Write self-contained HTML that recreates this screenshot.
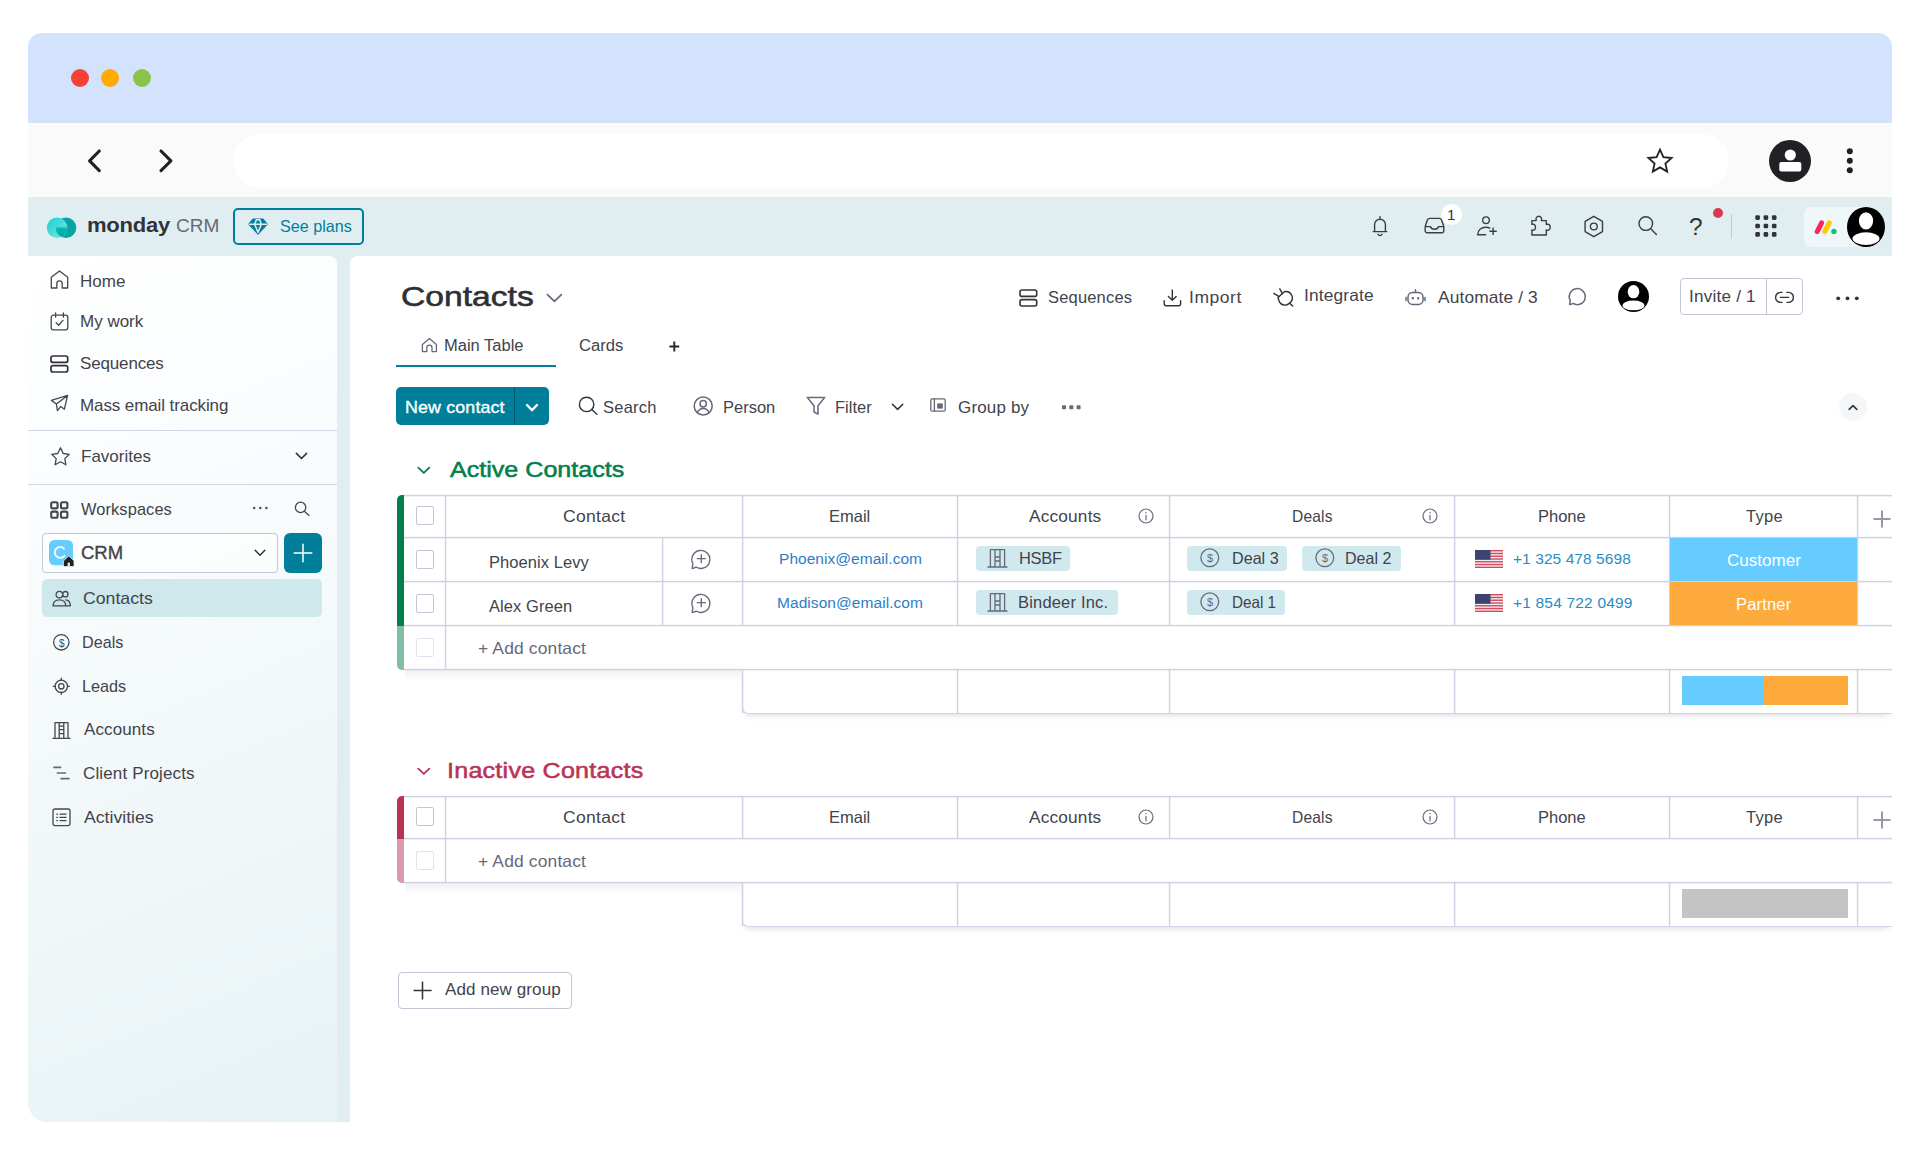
<!DOCTYPE html>
<html lang="en">
<head>
<meta charset="utf-8">
<title>Contacts - monday CRM</title>
<meta name="viewport" content="width=1920">
<style>

*{box-sizing:border-box;margin:0;padding:0}
html,body{width:1920px;height:1149px;background:#fff;overflow:hidden}
body{font-family:"Liberation Sans",sans-serif;color:#42434b;-webkit-font-smoothing:antialiased}
.page{position:relative;width:1920px;height:1149px;overflow:hidden;background:#fff}
.page div,.page span,.page svg,.page a,.page button,.page h1,.page h2,.page nav,.page header,.page main,.page section,.page ul,.page li{position:absolute}
.page .grp{position:static}
.t{white-space:nowrap;line-height:1;color:#42434b;text-decoration:none;font-weight:400}
.ic{overflow:visible;fill:none;stroke:#323338;stroke-width:1.5;stroke-linecap:round;stroke-linejoin:round}
.titlebar{background:#d3e3fd;border-radius:14px 14px 0 0}
.navbar{background:#fafafa}
.urlbar{background:#fff;border-radius:28px}
.dot{border-radius:50%}
.apphead{background:#e0eef2}
.sidebar{background:linear-gradient(158deg,#ffffff 0%,#fbfdfe 22%,#f2f8f9 58%,#e7f2f5 100%);border-radius:0 8px 0 20px}
.board{background:#fff;border-radius:8px 0 0 0}
.sep{background:#d0d4e4;height:1px}
.sel{background:#cfe8ec;border-radius:5px}
.wsbox{border:1px solid #c3c6d4;border-radius:4px;background:rgba(255,255,255,.6)}
.teal{background:#007f9b;border-radius:5px}
.outl{border:1px solid #c3c6d4;border-radius:4px;background:#fff}
.hl{background:#cdd1e2;height:1px;box-shadow:0 1px 0 rgba(205,209,226,.3),0 -1px 0 rgba(205,209,226,.12)}
.vl{background:#cdd1e2;width:1px;box-shadow:1px 0 0 rgba(205,209,226,.3),-1px 0 0 rgba(205,209,226,.12)}
.cb{border:1px solid #c3c6d4;border-radius:2px;background:#fff}
.cb.dim{border-color:#e0e2ec}
.chip{background:#cfe9ee;border-radius:4px}
.link{color:#2b7dc9}
.mut{color:#676879}
.wh{color:#fff}

</style>
</head>
<body>
<div class="page">
<div class="grp browser">
<div class="titlebar" style="left:28px;top:33px;width:1864px;height:90px;"></div>
<div class="dot" style="left:70.5px;top:69px;width:18px;height:18px;background:#f44336"></div>
<div class="dot" style="left:101px;top:69px;width:18px;height:18px;background:#ffab00"></div>
<div class="dot" style="left:132.5px;top:69px;width:18px;height:18px;background:#8bc34a"></div>
<div class="navbar" style="left:28px;top:123px;width:1864px;height:74px;"></div>
<svg class="ic" style="left:84px;top:146px;stroke:#202124;stroke-width:3.100;stroke-linecap:round;stroke-linejoin:round" width="22" height="30" viewBox="0 0 22 30" aria-hidden="true"><path d="M15.300 5 5.600 14.800l9.700 9.800"/></svg>
<svg class="ic" style="left:155px;top:146px;stroke:#202124;stroke-width:3.100;stroke-linecap:round;stroke-linejoin:round" width="22" height="30" viewBox="0 0 22 30" aria-hidden="true"><path d="M6 5l9.900 9.800L6 24.600"/></svg>
<div class="urlbar" style="left:233px;top:134px;width:1496px;height:54px;"></div>
<svg class="ic" style="left:1646px;top:147.4px;stroke:#202124;stroke-width:1.800;stroke-linejoin:miter" width="28" height="28" viewBox="0 0 28 28" aria-hidden="true"><path d="M14 2.6l3.4 7.6 8.2.8-6.2 5.5 1.8 8.1L14 20.4l-7.2 4.2 1.8-8.1L2.4 11l8.2-.8z"/></svg>
<svg class="ic" style="left:1768.7px;top:140px;" width="42" height="42" viewBox="0 0 42 42" aria-hidden="true"><circle cx="21" cy="21" r="21" fill="#202124" stroke="none"/><circle cx="21.3" cy="15" r="5.6" fill="#fff" stroke="none"/><rect x="10.3" y="22" width="22" height="9.4" rx="2" fill="#fff" stroke="none"/></svg>
<svg class="ic" style="left:1844.6px;top:146.2px;fill:#1f1f1f;stroke:none" width="10" height="30" viewBox="0 0 10 30" aria-hidden="true"><circle cx="4.8" cy="5.2" r="3" /><circle cx="4.8" cy="14.8" r="3"/><circle cx="4.8" cy="24.3" r="3"/></svg>
</div>
<header class="grp">
<div class="apphead" style="left:28px;top:197px;width:1864px;height:925px;border-radius:0 0 0 20px"></div>
<svg class="ic" style="left:46px;top:217px;" width="31" height="22" viewBox="0 0 31 22" aria-hidden="true"><defs><linearGradient id="lg1" x1="0" y1="0" x2="1" y2="1"><stop offset="0" stop-color="#16cfcd"/><stop offset="1" stop-color="#7fe9e6"/></linearGradient><linearGradient id="lg3" x1="0" y1="0" x2="0" y2="1"><stop offset="0.42" stop-color="#07b3b0" stop-opacity="0"/><stop offset="0.55" stop-color="#07b3b0"/><stop offset="1" stop-color="#05a7a6"/></linearGradient><clipPath id="cpl"><circle cx="11.1" cy="10.8" r="10.3"/></clipPath></defs><circle cx="20" cy="10.8" r="10.3" fill="#06a4a4" stroke="none"/><circle cx="11.1" cy="10.8" r="10.3" fill="url(#lg1)" stroke="none"/><circle cx="20" cy="10.8" r="10.3" fill="url(#lg3)" stroke="none" clip-path="url(#cpl)"/></svg>
<span class="t" style="left:87px;top:214px;font-size:21px;letter-spacing:-0.25px;font-weight:700;transform:scaleX(1.050);transform-origin:0 0;color:#323338;">monday</span>
<span class="t" style="left:176px;top:216px;font-size:19px;color:#676879;">CRM</span>
<div style="left:233px;top:208px;width:131px;height:37px;border:2px solid #007f9b;border-radius:5px"></div>
<svg class="ic" style="left:248px;top:218px;" width="20" height="17" viewBox="0 0 20 17" aria-hidden="true"><path d="M5.2 1h9.6l4.4 5.2L10 16 .8 6.2z" fill="#007f9b" stroke="#007f9b" stroke-width="1.2"/><path d="M1.500 6.300h17M6.700 6.300 10 14.500l3.300-8.200M6.700 6.300l1.600-4.500h3.400l1.600 4.500" stroke="#e0eef2" stroke-width="1.500" fill="none"/></svg>
<span class="t" style="left:280px;top:218px;font-size:16.5px;transform:scaleX(0.978);transform-origin:0 0;color:#007f9b;">See plans</span>
<svg class="ic" style="left:1370px;top:215px;stroke:#3b3c44;stroke-width:1.400" width="20" height="21" viewBox="0 0 20 21" aria-hidden="true"><path d="M10 1.6v1.6M3.2 16.6h13.6M4.6 16.4V9.6a5.4 5.4 0 0 1 10.8 0v6.8M8 19.2a2.2 2.2 0 0 0 4 0"/></svg>
<svg class="ic" style="left:1424px;top:217px;stroke:#3b3c44;stroke-width:1.400" width="21" height="17" viewBox="0 0 21 17" aria-hidden="true"><path d="M1.2 9.4 3.4 3a2.6 2.6 0 0 1 2.4-1.6h9.4A2.6 2.6 0 0 1 17.6 3l2.2 6.4v4.4a2 2 0 0 1-2 2H3.2a2 2 0 0 1-2-2zM1.4 9.6h5.2c.3 1.600 1.800 2.600 3.900 2.600s3.600-1 3.900-2.600h5.200"/></svg>
<div class="dot" style="left:1441px;top:203.5px;width:21px;height:21px;background:#fff"></div>
<span class="t" style="left:1447px;top:207px;font-size:15px;color:#323338;">1</span>
<svg class="ic" style="left:1476px;top:215px;stroke:#3b3c44;stroke-width:1.400" width="22" height="22" viewBox="0 0 22 22" aria-hidden="true"><circle cx="10" cy="5.200" r="3.300"/><path d="M1.600 19.800c.4-4.600 3.600-7.600 8.200-7.600 1.500 0 2.800.3 4 .9M1.600 19.800h8M17.100 13v6.400M13.900 16.200h6.400"/></svg>
<svg class="ic" style="left:1529px;top:215px;stroke:#3b3c44;stroke-width:1.400" width="22" height="22" viewBox="0 0 22 22" aria-hidden="true"><path d="M2.900 5.600H7.200C6.500 3.200 7.600 1.200 9.800 1.200s3.300 2 2.600 4.400h4.900v3.800c2.400-.7 3.900.4 3.900 2.800s-1.500 3.500-3.900 2.800v5H2.900v-5c2.400.7 3.600-.5 3.600-2.800S5.300 8.700 2.900 9.400z"/></svg>
<svg class="ic" style="left:1583px;top:215px;stroke:#3b3c44;stroke-width:1.400;stroke-linejoin:round" width="22" height="23" viewBox="0 0 22 23" aria-hidden="true"><path d="M10.800 1.300l8.700 5.100v10.200l-8.700 5.100-8.700-5.100V6.400z"/><circle cx="10.800" cy="11.500" r="3.400"/></svg>
<svg class="ic" style="left:1637px;top:215px;stroke:#3b3c44;stroke-width:1.400" width="21" height="21" viewBox="0 0 21 21" aria-hidden="true"><circle cx="8.800" cy="8.600" r="6.800"/><path d="M13.800 13.800l5.600 5.600"/></svg>
<span class="t" style="left:1689px;top:215px;font-size:24.5px;color:#323338;">?</span>
<div class="dot" style="left:1713px;top:208.2px;width:10px;height:10px;background:#d83a52"></div>
<div style="left:1731px;top:214px;width:1px;height:25px;background:#c5c7d4"></div>
<svg class="ic" style="left:1755px;top:215px;fill:#323338;stroke:none" width="22" height="22" viewBox="0 0 22 22" aria-hidden="true"><rect x="0.3" y="0.3" width="4.6" height="4.6" rx="1.3"/><rect x="8.6" y="0.3" width="4.6" height="4.6" rx="1.3"/><rect x="16.9" y="0.3" width="4.6" height="4.6" rx="1.3"/><rect x="0.3" y="8.7" width="4.6" height="4.6" rx="1.3"/><rect x="8.6" y="8.7" width="4.6" height="4.6" rx="1.3"/><rect x="16.9" y="8.7" width="4.6" height="4.6" rx="1.3"/><rect x="0.3" y="17.1" width="4.6" height="4.6" rx="1.3"/><rect x="8.6" y="17.1" width="4.6" height="4.6" rx="1.3"/><rect x="16.9" y="17.1" width="4.6" height="4.6" rx="1.3"/></svg>
<div style="left:1803.5px;top:206.5px;width:80px;height:40px;background:rgba(255,255,255,.5);border-radius:7px 20px 20px 7px"></div>
<svg class="ic" style="left:1814px;top:218.5px;" width="23" height="16" viewBox="0 0 23 16" aria-hidden="true"><path d="M3.200 12.600 7.600 3.800" stroke="#fb275d" stroke-width="5"/><path d="M10.800 12.600 15.200 3.800" stroke="#ffcb00" stroke-width="5"/><circle cx="19.900" cy="12.400" r="2.700" fill="#00ca72" stroke="none"/></svg>
<svg class="ic" style="left:1847.400px;top:206.600px" width="38" height="40" viewBox="0 0 40 40" preserveAspectRatio="none" aria-hidden="true"><circle cx="20" cy="20" r="20" fill="#000" stroke="none"/><ellipse cx="20" cy="13.800" rx="7.500" ry="8.600" fill="#fff" stroke="none"/><ellipse cx="20" cy="31.600" rx="14.200" ry="6.300" fill="#fff" stroke="none"/></svg>
</header>
<nav class="grp">
<div class="sidebar" style="left:28px;top:256px;width:309px;height:866px;"></div>
<svg class="ic" style="left:50px;top:270px;stroke:#45464f;stroke-width:1.3" width="19" height="19" viewBox="0 0 19 19" aria-hidden="true"><path d="M1.300 7.200 9.500 1l8.200 6.200V18h-5.500v-4.500a2.700 2.700 0 0 0-5.400 0V18H1.300z"/></svg>
<span class="t" style="left:80px;top:273px;font-size:17px;">Home</span>
<svg class="ic" style="left:50px;top:312px;stroke:#45464f;stroke-width:1.3" width="19" height="19" viewBox="0 0 19 19" aria-hidden="true"><rect x="1.200" y="3.200" width="16.600" height="14.600" rx="2.200"/><path d="M5.600 1v4M13.400 1v4M6.200 10.800l2.400 2.400 4.400-4.800"/></svg>
<span class="t" style="left:80px;top:313px;font-size:17px;">My work</span>
<svg class="ic" style="left:50px;top:354.5px;stroke:#323338;stroke-width:1.7" width="19" height="18" viewBox="0 0 19 18" aria-hidden="true"><rect x="1" y="1" width="16.700" height="6.400" rx="2"/><rect x="1" y="10.600" width="16.700" height="6.400" rx="2"/></svg>
<span class="t" style="left:80px;top:355px;font-size:17px;letter-spacing:-0.15px;">Sequences</span>
<svg class="ic" style="left:50px;top:394px;stroke:#45464f;stroke-width:1.3" width="19" height="19" viewBox="0 0 19 19" aria-hidden="true"><path d="M17.600 1.400 1.400 6.400l5 3.600 1 6.600 3.400-4.200 3.600 2.800zM6.400 10 17.600 1.400"/></svg>
<span class="t" style="left:80px;top:397px;font-size:17px;letter-spacing:-0.10px;">Mass email tracking</span>
<div class="sep" style="left:28px;top:429.5px;width:309px;height:1px;"></div>
<svg class="ic" style="left:50px;top:445.5px;stroke:#45464f;stroke-width:1.3" width="21" height="21" viewBox="0 0 21 21" aria-hidden="true"><path d="M10.500 1.800l2.700 5.700 6.100.8-4.500 4.300 1.100 6.200-5.400-3-5.400 3 1.100-6.200L1.700 8.300l6.100-.8z"/></svg>
<span class="t" style="left:81px;top:448px;font-size:17px;">Favorites</span>
<svg class="ic" style="left:295px;top:452px;stroke:#323338;stroke-width:1.6" width="13" height="8" viewBox="0 0 13 8" aria-hidden="true"><path d="M1.400 1.400 6.500 6.500l5.100-5.100"/></svg>
<div class="sep" style="left:28px;top:484px;width:309px;height:1px;"></div>
<svg class="ic" style="left:50px;top:500.5px;stroke:#45464f;stroke-width:2.100" width="19" height="18" viewBox="0 0 19 18" aria-hidden="true"><rect x="1.200" y="1.200" width="6.400" height="6.200" rx="1.500"/><rect x="11" y="1.200" width="6.400" height="6.200" rx="1.500"/><rect x="1.200" y="10.600" width="6.400" height="6.200" rx="1.500"/><rect x="11" y="10.600" width="6.400" height="6.200" rx="1.500"/></svg>
<span class="t" style="left:81px;top:501px;font-size:17px;letter-spacing:0.09px;transform:scaleX(0.966);transform-origin:0 0;">Workspaces</span>
<svg class="ic" style="left:252px;top:506px;fill:#45464f;stroke:none" width="17" height="4" viewBox="0 0 17 4" aria-hidden="true"><circle cx="2.200" cy="2" r="1.200"/><circle cx="8.300" cy="2" r="1.200"/><circle cx="14.400" cy="2" r="1.200"/></svg>
<svg class="ic" style="left:294px;top:500.5px;stroke:#45464f;stroke-width:1.3" width="16" height="15" viewBox="0 0 16 15" aria-hidden="true"><circle cx="6.600" cy="6.400" r="5.200"/><path d="M10.600 10.400l4.400 4"/></svg>
<div class="wsbox" style="left:41.5px;top:533px;width:236.5px;height:39.5px;"></div>
<svg class="ic" style="left:48.5px;top:540px;" width="26" height="27" viewBox="0 0 26 27" aria-hidden="true"><rect x="0" y="0" width="24" height="25.300" rx="5.500" fill="#66ccff" stroke="none"/><path d="M15 8.600a5.400 5.400 0 1 0 .4 7.200" stroke="#fff" stroke-width="1.900" fill="none" opacity=".9"/><path d="M14.600 20.800 19.800 15.800l5.200 5v5.800H14.600z" fill="#1f1f1f" stroke="#f4f9fa" stroke-width="0.800"/><rect x="18.600" y="22.600" width="2.400" height="3.600" fill="#dfe3e8" stroke="none"/></svg>
<span class="t" style="left:81px;top:544px;font-size:18.5px;-webkit-text-stroke:0.35px;">CRM</span>
<svg class="ic" style="left:253.5px;top:548.5px;stroke:#323338;stroke-width:1.500" width="12" height="8" viewBox="0 0 12 8" aria-hidden="true"><path d="M1.200 1.300 6 6.200l4.800-4.900"/></svg>
<div class="teal" style="left:283.5px;top:533px;width:38.5px;height:39.5px;border-radius:6px"></div>
<svg class="ic" style="left:293px;top:543px;stroke:#fff;stroke-width:1.500" width="20" height="20" viewBox="0 0 20 20" aria-hidden="true"><path d="M10 1.200v17.600M1.200 10h17.600"/></svg>
<div class="sel" style="left:41.5px;top:579px;width:280.5px;height:38px;"></div>
<svg class="ic" style="left:52px;top:589.5px;stroke:#45464f;stroke-width:1.3" width="20" height="17" viewBox="0 0 20 17" aria-hidden="true"><circle cx="7.400" cy="4.600" r="3.300"/><circle cx="13.300" cy="4.200" r="2.700"/><path d="M1 15.800c.2-3.800 2.800-6 6.400-6s6.200 2.200 6.400 6zM13.800 9.800c2.600.2 4.400 2.200 4.600 6h-4.200"/></svg>
<span class="t" style="left:83px;top:590px;font-size:17px;transform:scaleX(1.040);transform-origin:0 0;">Contacts</span>
<svg class="ic" style="left:52px;top:633px;stroke:#45464f;stroke-width:1.3" width="19" height="19" viewBox="0 0 19 19" aria-hidden="true"><circle cx="9.300" cy="9.300" r="7.700"/></svg>
<span class="t" style="left:59px;top:639px;font-size:10px;color:#45464f;">$</span>
<span class="t" style="left:82px;top:634px;font-size:17px;transform:scaleX(0.950);transform-origin:0 0;">Deals</span>
<svg class="ic" style="left:52px;top:676.5px;stroke:#45464f;stroke-width:1.3" width="19" height="19" viewBox="0 0 19 19" aria-hidden="true"><circle cx="9.300" cy="9.300" r="6.200"/><circle cx="9.300" cy="9.300" r="2.700"/><path d="M9.300 1.200v1.900M9.300 15.500v1.900M1.200 9.300h1.900M15.500 9.300h1.900"/></svg>
<span class="t" style="left:82px;top:678px;font-size:17px;transform:scaleX(0.953);transform-origin:0 0;">Leads</span>
<svg class="ic" style="left:52px;top:720.5px;stroke:#45464f;stroke-width:1.3" width="19" height="19" viewBox="0 0 19 19" aria-hidden="true"><path d="M3 17.400V1.600h13v15.800M1 17.400h17M7.200 17.400v-4.800h4.600v4.800M7.200 1.600v11M11.800 1.600v11M7.200 8.600h4.600M7.200 5.200h4.600"/></svg>
<span class="t" style="left:84px;top:721px;font-size:17px;letter-spacing:0.11px;">Accounts</span>
<svg class="ic" style="left:53px;top:766px;stroke:#676879;stroke-width:1.700" width="18" height="14" viewBox="0 0 18 14" aria-hidden="true"><path d="M1 1.400h6.500M4.400 7h8M8 12.600h8"/></svg>
<span class="t" style="left:83px;top:765px;font-size:17px;letter-spacing:0.14px;">Client Projects</span>
<svg class="ic" style="left:52px;top:808px;stroke:#45464f;stroke-width:1.3" width="19" height="19" viewBox="0 0 19 19" aria-hidden="true"><rect x="1" y="1" width="17" height="16.600" rx="1.800"/><path d="M8 6.200h6M8 9.400h6M8 12.600h6M4.800 6.200h.6M4.800 9.400h.6M4.800 12.600h.6"/></svg>
<span class="t" style="left:84px;top:809px;font-size:17px;transform:scaleX(1.038);transform-origin:0 0;">Activities</span>
</nav>
<main class="grp">
<div class="board" style="left:350px;top:256px;width:1542px;height:866px;"></div>
<h1 class="t" style="left:401px;top:282px;font-size:28.5px;transform:scaleX(1.180);transform-origin:0 0;-webkit-text-stroke:0.6px;color:#2f3035;">Contacts</h1>
<svg class="ic" style="left:545.5px;top:292.5px;stroke:#676879;stroke-width:1.700" width="17" height="10" viewBox="0 0 17 10" aria-hidden="true"><path d="M1.400 1.600 8.400 8.400l7-6.800"/></svg>
<svg class="ic" style="left:1018.5px;top:288.5px;stroke:#323338;stroke-width:1.600" width="19" height="18" viewBox="0 0 19 18" aria-hidden="true"><rect x="1" y="1" width="16.700" height="6.400" rx="2"/><rect x="1" y="10.600" width="16.700" height="6.400" rx="2"/></svg>
<span class="t" style="left:1048px;top:289px;font-size:16.5px;letter-spacing:0.18px;">Sequences</span>
<svg class="ic" style="left:1163px;top:288.5px;stroke:#323338;stroke-width:1.400" width="19" height="18" viewBox="0 0 19 18" aria-hidden="true"><path d="M9.300 1v10M5.400 7.400l3.900 3.800 3.900-3.800M1.200 11.800v3a2 2 0 0 0 2 2h12.400a2 2 0 0 0 2-2v-3"/></svg>
<span class="t" style="left:1189px;top:289px;font-size:16.5px;letter-spacing:0.51px;transform:scaleX(1.060);transform-origin:0 0;">Import</span>
<svg class="ic" style="left:1272px;top:287px;stroke:#323338;stroke-width:1.400" width="22" height="21" viewBox="0 0 22 21" aria-hidden="true"><path d="M6 10.600 12.400 4.800a6.300 6.300 0 0 1 6.200 10.400l-1.600 1.400a6.300 6.300 0 0 1-9.600-1.800z"/><path d="M10.400 6.600 7.800 1.800M7.200 9.600 1.800 6.400M17.800 16.200l2.800 2.800"/></svg>
<span class="t" style="left:1304px;top:287px;font-size:16.5px;letter-spacing:0.15px;transform:scaleX(1.051);transform-origin:0 0;">Integrate</span>
<svg class="ic" style="left:1405px;top:288.5px;stroke:#676879;stroke-width:1.500" width="21" height="17" viewBox="0 0 21 17" aria-hidden="true"><rect x="3" y="3.400" width="15" height="12" rx="4.500"/><path d="M10.500 .8v2.400M1 8.400v3M20 8.400v3"/><rect x="6.800" y="8" width="2" height="2.400" fill="#676879" stroke="none"/><rect x="12.200" y="8" width="2" height="2.400" fill="#676879" stroke="none"/></svg>
<span class="t" style="left:1438px;top:289px;font-size:17px;letter-spacing:0.12px;transform:scaleX(1.021);transform-origin:0 0;">Automate / 3</span>
<svg class="ic" style="left:1567px;top:286.5px;stroke:#676879;stroke-width:1.500" width="20" height="20" viewBox="0 0 20 20" aria-hidden="true"><path d="M2.600 17.600c1.400-.2 2.600-.6 3.400-1.200a8 8 0 1 0-2.800-3z"/></svg>
<svg class="ic" style="left:1617.5px;top:281px;" width="31" height="31" viewBox="0 0 40 40" aria-hidden="true"><circle cx="20" cy="20" r="20" fill="#000" stroke="none"/><ellipse cx="20" cy="13.800" rx="7.500" ry="8.600" fill="#fff" stroke="none"/><ellipse cx="20" cy="31.600" rx="14.200" ry="6.300" fill="#fff" stroke="none"/></svg>
<div class="outl" style="left:1680px;top:278px;width:123px;height:37px;"></div>
<div style="left:1765.5px;top:278px;width:1px;height:37px;background:#c3c6d4"></div>
<span class="t" style="left:1689px;top:288px;font-size:16.5px;letter-spacing:0.21px;transform:scaleX(1.037);transform-origin:0 0;">Invite / 1</span>
<svg class="ic" style="left:1774px;top:290.5px;stroke:#323338;stroke-width:1.400" width="21" height="13" viewBox="0 0 21 13" aria-hidden="true"><path d="M8 1.400H6.600a5 5 0 0 0 0 10H8M13 1.400h1.400a5 5 0 0 1 0 10H13M6.400 6.400h8.200"/></svg>
<svg class="ic" style="left:1835.5px;top:296px;fill:#323338;stroke:none" width="24" height="5" viewBox="0 0 24 5" aria-hidden="true"><circle cx="2.200" cy="2.300" r="1.900"/><circle cx="11.500" cy="2.300" r="1.900"/><circle cx="20.800" cy="2.300" r="1.900"/></svg>
<svg class="ic" style="left:420.5px;top:337px;stroke:#676879;stroke-width:1.300" width="17" height="16" viewBox="0 0 17 16" aria-hidden="true"><path d="M1.400 7.400 8.400 1.400l7 6v7.200h-4.400v-3.800a2.600 2.600 0 0 0-5.200 0v3.800H1.400z"/></svg>
<span class="t" style="left:444px;top:338px;font-size:16px;transform:scaleX(1.032);transform-origin:0 0;">Main Table</span>
<div style="left:395.5px;top:365px;width:160px;height:2px;background:#007f9b"></div>
<span class="t" style="left:579px;top:338px;font-size:16px;transform:scaleX(1.037);transform-origin:0 0;">Cards</span>
<svg class="ic" style="left:668.5px;top:341px;stroke:#26272c;stroke-width:1.900;stroke-linecap:butt" width="11" height="11" viewBox="0 0 11 11" aria-hidden="true"><path d="M5.300 .6v9.800M.4 5.500h9.800"/></svg>
<div class="teal" style="left:395.5px;top:387px;width:153px;height:38px;"></div>
<div style="left:514px;top:387px;width:1px;height:38px;background:#00596d"></div>
<span class="t wh" style="left:405px;top:399px;font-size:17px;letter-spacing:0.13px;transform:scaleX(1.050);transform-origin:0 0;-webkit-text-stroke:0.35px;">New contact</span>
<svg class="ic" style="left:524.5px;top:403px;stroke:#fff;stroke-width:2.400" width="14" height="10" viewBox="0 0 14 10" aria-hidden="true"><path d="M2 2 7 7.200 12 2"/></svg>
<svg class="ic" style="left:578px;top:396px;stroke:#323338;stroke-width:1.400" width="20" height="19" viewBox="0 0 20 19" aria-hidden="true"><circle cx="8.600" cy="8.400" r="7.200"/><path d="M13.800 13.600l5 4.600"/></svg>
<span class="t" style="left:603px;top:399px;font-size:16.5px;letter-spacing:0.24px;">Search</span>
<svg class="ic" style="left:692.5px;top:396px;stroke:#676879;stroke-width:1.500" width="20" height="20" viewBox="0 0 20 20" aria-hidden="true"><circle cx="10.200" cy="10" r="9"/><circle cx="10.200" cy="7.800" r="3.200"/><path d="M4.400 16.600c1-3 3-4.200 5.800-4.200s4.800 1.200 5.800 4.200"/></svg>
<span class="t" style="left:723px;top:399px;font-size:16.5px;">Person</span>
<svg class="ic" style="left:805.5px;top:396px;stroke:#676879;stroke-width:1.500" width="20" height="20" viewBox="0 0 20 20" aria-hidden="true"><path d="M1.200 1.400h17.600l-6.800 8.400v8.400l-4-2.200V9.800z"/></svg>
<span class="t" style="left:835px;top:399px;font-size:16.5px;">Filter</span>
<svg class="ic" style="left:891px;top:402.5px;stroke:#323338;stroke-width:1.500" width="14" height="8" viewBox="0 0 14 8" aria-hidden="true"><path d="M1.400 1.300 6.600 6.400l5.200-5.100"/></svg>
<svg class="ic" style="left:930px;top:398px;stroke:#676879;stroke-width:1.300" width="16" height="14" viewBox="0 0 16 14" aria-hidden="true"><rect x=".8" y=".8" width="14.400" height="12.400" rx="1.500"/><path d="M4.400 1v12"/><rect x="7.200" y="5.400" width="5.600" height="5.200" fill="#676879" stroke="none"/></svg>
<span class="t" style="left:958px;top:399px;font-size:16.5px;letter-spacing:0.17px;transform:scaleX(1.029);transform-origin:0 0;">Group by</span>
<svg class="ic" style="left:1062px;top:404.5px;fill:#676879;stroke:none" width="19" height="5" viewBox="0 0 19 5" aria-hidden="true"><rect x="0" y=".3" width="4" height="4" rx=".8"/><rect x="7.300" y=".3" width="4" height="4" rx=".8"/><rect x="14.600" y=".3" width="4" height="4" rx=".8"/></svg>
<div class="dot" style="left:1838.5px;top:393px;width:28px;height:28px;background:#f5f6f8"></div>
<svg class="ic" style="left:1848px;top:403.5px;stroke:#323338;stroke-width:1.600" width="10" height="7" viewBox="0 0 10 7" aria-hidden="true"><path d="M1.200 5.400 5 1.600l3.800 3.800"/></svg>
<section class="grp">
<svg class="ic" style="left:416.5px;top:465.5px;stroke:#037f4c;stroke-width:1.800" width="14" height="9" viewBox="0 0 14 9" aria-hidden="true"><path d="M1.300 1.600 6.800 6.800l5.500-5.200"/></svg>
<h2 class="t" style="left:450px;top:459px;font-size:22px;transform:scaleX(1.140);transform-origin:0 0;-webkit-text-stroke:0.55px;color:#037f4c;">Active Contacts</h2>
<div style="left:397px;top:495px;width:7px;height:131px;background:#037f4c;border-radius:5px 0 0 0"></div>
<div style="left:397px;top:626px;width:7px;height:44px;background:#81bfa5;border-radius:0 0 0 5px"></div>
<div style="left:405px;top:670px;width:1487px;height:12px;background:linear-gradient(#f0f1f5,#fff)"></div>
<div style="left:742px;top:670px;width:1150px;height:44px;background:#fff;border:1px solid #d0d4e4;border-top:none;border-right:none;border-radius:0 0 0 6px;box-shadow:0 5px 6px -4px rgba(120,125,150,.3)"></div>
<div class="hl" style="left:404px;top:495px;width:1488px;height:1px;"></div>
<div class="hl" style="left:404px;top:537px;width:1488px;height:1px;"></div>
<div class="hl" style="left:404px;top:581px;width:1488px;height:1px;"></div>
<div class="hl" style="left:404px;top:625px;width:1488px;height:1px;"></div>
<div class="hl" style="left:404px;top:669px;width:1488px;height:1px;"></div>
<div class="vl" style="left:445px;top:496px;width:1px;height:173px;"></div>
<div class="vl" style="left:742px;top:496px;width:1px;height:129px;"></div>
<div class="vl" style="left:742px;top:670px;width:1px;height:43px;"></div>
<div class="vl" style="left:957px;top:496px;width:1px;height:129px;"></div>
<div class="vl" style="left:957px;top:670px;width:1px;height:43px;"></div>
<div class="vl" style="left:1169px;top:496px;width:1px;height:129px;"></div>
<div class="vl" style="left:1169px;top:670px;width:1px;height:43px;"></div>
<div class="vl" style="left:1454px;top:496px;width:1px;height:129px;"></div>
<div class="vl" style="left:1454px;top:670px;width:1px;height:43px;"></div>
<div class="vl" style="left:1669px;top:496px;width:1px;height:129px;"></div>
<div class="vl" style="left:1669px;top:670px;width:1px;height:43px;"></div>
<div class="vl" style="left:1857px;top:496px;width:1px;height:129px;"></div>
<div class="vl" style="left:1857px;top:670px;width:1px;height:43px;"></div>
<div class="vl" style="left:662px;top:538px;width:1px;height:87px;"></div>
<div class="cb" style="left:416px;top:506px;width:18px;height:19px;"></div>
<span class="t" style="left:563px;top:508px;font-size:16.5px;letter-spacing:0.27px;transform:scaleX(1.063);transform-origin:0 0;">Contact</span>
<span class="t" style="left:829px;top:508px;font-size:16.5px;">Email</span>
<span class="t" style="left:1029px;top:508px;font-size:16.5px;letter-spacing:0.16px;transform:scaleX(1.047);transform-origin:0 0;">Accounts</span>
<svg class="ic" style="left:1137.5px;top:507.7px;stroke:#676879;stroke-width:1.200" width="16" height="16" viewBox="0 0 16 16" aria-hidden="true"><circle cx="8" cy="8" r="7"/><path d="M8 7.400v4.400M8 4.400v.4"/></svg>
<span class="t" style="left:1292px;top:508px;font-size:16.5px;letter-spacing:0.19px;transform:scaleX(0.944);transform-origin:0 0;">Deals</span>
<svg class="ic" style="left:1421.5px;top:507.7px;stroke:#676879;stroke-width:1.200" width="16" height="16" viewBox="0 0 16 16" aria-hidden="true"><circle cx="8" cy="8" r="7"/><path d="M8 7.400v4.400M8 4.400v.4"/></svg>
<span class="t" style="left:1538px;top:508px;font-size:16.5px;">Phone</span>
<span class="t" style="left:1746px;top:508px;font-size:16.5px;letter-spacing:0.33px;">Type</span>
<svg class="ic" style="left:1873px;top:510px;stroke:#9699a6;stroke-width:2;stroke-linecap:butt" width="18" height="18" viewBox="0 0 18 18" aria-hidden="true"><path d="M9 .5v17M.5 9h17"/></svg>
<div class="cb" style="left:416px;top:550px;width:18px;height:19px;"></div>
<span class="t" style="left:489px;top:554px;font-size:16.5px;letter-spacing:0.06px;">Phoenix Levy</span>
<svg class="ic" style="left:690.3px;top:547.6px;stroke:#676879;stroke-width:1.300" width="22" height="22.5" viewBox="0 0 21 21.500" aria-hidden="true"><path d="M2 19.600c1.600-.2 3-.6 3.800-1.400a8.600 8.600 0 1 0-3-3.200zM10.800 6.400v7.600M7 10.200h7.600"/></svg>
<a class="t link" style="left:779px;top:551px;font-size:15.5px;letter-spacing:0.04px;">Phoenix@email.com</a>
<div class="chip" style="left:975.5px;top:546px;width:94.3px;height:25px;"></div>
<svg class="ic" style="left:986.5px;top:547.5px;stroke:#676879;stroke-width:1.300" width="21" height="20" viewBox="0 0 21 20" aria-hidden="true"><path d="M3.400 19V1.600h14.200V19M1 19h19M8 19v-6h5v6M8 1.600V13M13 1.600V13M8 9h5"/></svg>
<span class="t" style="left:1019px;top:550px;font-size:16.5px;letter-spacing:-0.33px;">HSBF</span>
<div class="chip" style="left:1187.2px;top:546px;width:100.1px;height:25px;"></div>
<svg class="ic" style="left:1200.2px;top:548px;stroke:#676879;stroke-width:1.300" width="20" height="20" viewBox="0 0 20 20" aria-hidden="true"><circle cx="9.800" cy="9.800" r="8.900"/></svg>
<span class="t" style="left:1207px;top:553px;font-size:11px;color:#676879;">$</span>
<span class="t" style="left:1232px;top:550px;font-size:16.5px;transform:scaleX(0.978);transform-origin:0 0;">Deal 3</span>
<div class="chip" style="left:1301.7px;top:546px;width:99.6px;height:25px;"></div>
<svg class="ic" style="left:1314.7px;top:548px;stroke:#676879;stroke-width:1.300" width="20" height="20" viewBox="0 0 20 20" aria-hidden="true"><circle cx="9.800" cy="9.800" r="8.900"/></svg>
<span class="t" style="left:1322px;top:553px;font-size:11px;color:#676879;">$</span>
<span class="t" style="left:1345px;top:550px;font-size:16.5px;transform:scaleX(0.972);transform-origin:0 0;">Deal 2</span>
<svg class="ic" style="left:1475px;top:549.7px;" width="28" height="18" viewBox="0 0 28 18" aria-hidden="true"><rect width="28" height="18" fill="#eef0f3" stroke="none"/><rect y="0" width="28" height="1.400" fill="#d24a5c" stroke="none"/><rect y="2.77" width="28" height="1.400" fill="#d24a5c" stroke="none"/><rect y="5.54" width="28" height="1.400" fill="#d24a5c" stroke="none"/><rect y="8.31" width="28" height="1.400" fill="#d24a5c" stroke="none"/><rect y="11.08" width="28" height="1.400" fill="#d24a5c" stroke="none"/><rect y="13.85" width="28" height="1.400" fill="#d24a5c" stroke="none"/><rect y="16.6" width="28" height="1.400" fill="#d24a5c" stroke="none"/><rect width="15.500" height="9.700" fill="#3c4372" stroke="none"/></svg>
<a class="t link" style="left:1513px;top:551px;font-size:15.5px;letter-spacing:0.07px;color:#2b8cc4;">+1 325 478 5698</a>
<div style="left:1670px;top:538px;width:187px;height:43px;background:#66ccff"></div>
<span class="t wh" style="left:1727px;top:552px;font-size:16.5px;transform:scaleX(1.034);transform-origin:0 0;">Customer</span>
<div class="cb" style="left:416px;top:594px;width:18px;height:19px;"></div>
<span class="t" style="left:489px;top:598px;font-size:16.5px;letter-spacing:0.06px;">Alex Green</span>
<svg class="ic" style="left:690.3px;top:591.6px;stroke:#676879;stroke-width:1.300" width="22" height="22.5" viewBox="0 0 21 21.500" aria-hidden="true"><path d="M2 19.600c1.600-.2 3-.6 3.800-1.400a8.600 8.600 0 1 0-3-3.200zM10.800 6.400v7.600M7 10.200h7.600"/></svg>
<a class="t link" style="left:777px;top:595px;font-size:15.5px;letter-spacing:0.06px;">Madison@email.com</a>
<div class="chip" style="left:975.5px;top:590px;width:142.1px;height:25px;"></div>
<svg class="ic" style="left:986.5px;top:591.5px;stroke:#676879;stroke-width:1.300" width="21" height="20" viewBox="0 0 21 20" aria-hidden="true"><path d="M3.400 19V1.600h14.200V19M1 19h19M8 19v-6h5v6M8 1.600V13M13 1.600V13M8 9h5"/></svg>
<span class="t" style="left:1018px;top:594px;font-size:16.5px;letter-spacing:0.18px;">Bindeer Inc.</span>
<div class="chip" style="left:1187.2px;top:590px;width:97.9px;height:25px;"></div>
<svg class="ic" style="left:1200.2px;top:592px;stroke:#676879;stroke-width:1.300" width="20" height="20" viewBox="0 0 20 20" aria-hidden="true"><circle cx="9.800" cy="9.800" r="8.900"/></svg>
<span class="t" style="left:1207px;top:597px;font-size:11px;color:#676879;">$</span>
<span class="t" style="left:1232px;top:594px;font-size:16.5px;transform:scaleX(0.924);transform-origin:0 0;">Deal 1</span>
<svg class="ic" style="left:1475px;top:593.7px;" width="28" height="18" viewBox="0 0 28 18" aria-hidden="true"><rect width="28" height="18" fill="#eef0f3" stroke="none"/><rect y="0" width="28" height="1.400" fill="#d24a5c" stroke="none"/><rect y="2.77" width="28" height="1.400" fill="#d24a5c" stroke="none"/><rect y="5.54" width="28" height="1.400" fill="#d24a5c" stroke="none"/><rect y="8.31" width="28" height="1.400" fill="#d24a5c" stroke="none"/><rect y="11.08" width="28" height="1.400" fill="#d24a5c" stroke="none"/><rect y="13.85" width="28" height="1.400" fill="#d24a5c" stroke="none"/><rect y="16.6" width="28" height="1.400" fill="#d24a5c" stroke="none"/><rect width="15.500" height="9.700" fill="#3c4372" stroke="none"/></svg>
<a class="t link" style="left:1513px;top:595px;font-size:15.5px;letter-spacing:0.19px;color:#2b8cc4;">+1 854 722 0499</a>
<div style="left:1670px;top:582px;width:187px;height:43px;background:#fdab3d"></div>
<span class="t wh" style="left:1736px;top:596px;font-size:16.5px;letter-spacing:0.17px;">Partner</span>
<div class="cb dim" style="left:416px;top:638px;width:18px;height:19px;"></div>
<span class="t mut" style="left:478px;top:640px;font-size:16.5px;letter-spacing:0.13px;transform:scaleX(1.058);transform-origin:0 0;">+ Add contact</span>
<div style="left:1681.5px;top:676px;width:82px;height:29px;background:#66ccff"></div>
<div style="left:1763.5px;top:676px;width:84px;height:29px;background:#fdab3d"></div>
</section>
<section class="grp">
<svg class="ic" style="left:416.5px;top:766.5px;stroke:#bb3354;stroke-width:1.800" width="14" height="9" viewBox="0 0 14 9" aria-hidden="true"><path d="M1.300 1.600 6.800 6.800l5.500-5.200"/></svg>
<h2 class="t" style="left:447px;top:760px;font-size:22px;letter-spacing:0.21px;transform:scaleX(1.140);transform-origin:0 0;-webkit-text-stroke:0.55px;color:#bb3354;">Inactive Contacts</h2>
<div style="left:397px;top:796px;width:7px;height:43px;background:#bb3354;border-radius:5px 0 0 0"></div>
<div style="left:397px;top:839px;width:7px;height:44px;background:#dd99a9;border-radius:0 0 0 5px"></div>
<div style="left:405px;top:883px;width:1487px;height:12px;background:linear-gradient(#f0f1f5,#fff)"></div>
<div style="left:742px;top:883px;width:1150px;height:44px;background:#fff;border:1px solid #d0d4e4;border-top:none;border-right:none;border-radius:0 0 0 6px;box-shadow:0 5px 6px -4px rgba(120,125,150,.3)"></div>
<div class="hl" style="left:404px;top:796px;width:1488px;height:1px;"></div>
<div class="hl" style="left:404px;top:838px;width:1488px;height:1px;"></div>
<div class="hl" style="left:404px;top:882px;width:1488px;height:1px;"></div>
<div class="vl" style="left:445px;top:797px;width:1px;height:85px;"></div>
<div class="vl" style="left:742px;top:797px;width:1px;height:41px;"></div>
<div class="vl" style="left:742px;top:883px;width:1px;height:43px;"></div>
<div class="vl" style="left:957px;top:797px;width:1px;height:41px;"></div>
<div class="vl" style="left:957px;top:883px;width:1px;height:43px;"></div>
<div class="vl" style="left:1169px;top:797px;width:1px;height:41px;"></div>
<div class="vl" style="left:1169px;top:883px;width:1px;height:43px;"></div>
<div class="vl" style="left:1454px;top:797px;width:1px;height:41px;"></div>
<div class="vl" style="left:1454px;top:883px;width:1px;height:43px;"></div>
<div class="vl" style="left:1669px;top:797px;width:1px;height:41px;"></div>
<div class="vl" style="left:1669px;top:883px;width:1px;height:43px;"></div>
<div class="vl" style="left:1857px;top:797px;width:1px;height:41px;"></div>
<div class="vl" style="left:1857px;top:883px;width:1px;height:43px;"></div>
<div class="cb" style="left:416px;top:807px;width:18px;height:19px;"></div>
<span class="t" style="left:563px;top:809px;font-size:16.5px;letter-spacing:0.27px;transform:scaleX(1.063);transform-origin:0 0;">Contact</span>
<span class="t" style="left:829px;top:809px;font-size:16.5px;">Email</span>
<span class="t" style="left:1029px;top:809px;font-size:16.5px;letter-spacing:0.16px;transform:scaleX(1.047);transform-origin:0 0;">Accounts</span>
<svg class="ic" style="left:1137.5px;top:808.7px;stroke:#676879;stroke-width:1.200" width="16" height="16" viewBox="0 0 16 16" aria-hidden="true"><circle cx="8" cy="8" r="7"/><path d="M8 7.400v4.400M8 4.400v.4"/></svg>
<span class="t" style="left:1292px;top:809px;font-size:16.5px;letter-spacing:0.19px;transform:scaleX(0.944);transform-origin:0 0;">Deals</span>
<svg class="ic" style="left:1421.5px;top:808.7px;stroke:#676879;stroke-width:1.200" width="16" height="16" viewBox="0 0 16 16" aria-hidden="true"><circle cx="8" cy="8" r="7"/><path d="M8 7.400v4.400M8 4.400v.4"/></svg>
<span class="t" style="left:1538px;top:809px;font-size:16.5px;">Phone</span>
<span class="t" style="left:1746px;top:809px;font-size:16.5px;letter-spacing:0.33px;">Type</span>
<svg class="ic" style="left:1873px;top:811px;stroke:#9699a6;stroke-width:2;stroke-linecap:butt" width="18" height="18" viewBox="0 0 18 18" aria-hidden="true"><path d="M9 .5v17M.5 9h17"/></svg>
<div class="cb dim" style="left:416px;top:851px;width:18px;height:19px;"></div>
<span class="t mut" style="left:478px;top:853px;font-size:16.5px;letter-spacing:0.13px;transform:scaleX(1.058);transform-origin:0 0;">+ Add contact</span>
<div style="left:1681.5px;top:889px;width:166px;height:29px;background:#c4c4c4"></div>
</section>
<div style="left:1892px;top:256px;width:28px;height:893px;background:#fff"></div>
<div class="outl" style="left:397.5px;top:971.5px;width:174.5px;height:37.5px;"></div>
<svg class="ic" style="left:412.5px;top:981px;stroke:#323338;stroke-width:1.500;stroke-linecap:butt" width="19" height="19" viewBox="0 0 19 19" aria-hidden="true"><path d="M9.500 .6v18M.6 9.600h18"/></svg>
<span class="t" style="left:445px;top:981px;font-size:16.5px;letter-spacing:0.10px;transform:scaleX(1.031);transform-origin:0 0;">Add new group</span>
</main>
</div>
</body>
</html>
